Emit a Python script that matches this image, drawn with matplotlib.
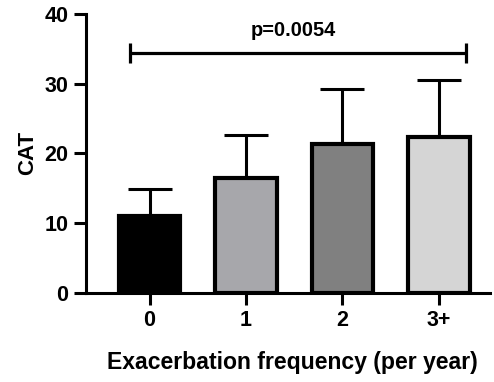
import matplotlib
matplotlib.use("Agg")
import matplotlib.pyplot as plt
import numpy as np

categories = ["0", "1", "2", "3+"]
means = [11.0, 16.5, 21.4, 22.4]
sd_upper = [3.9, 6.2, 7.8, 8.1]
colors = ["#000000", "#A7A7AB", "#808080", "#D5D5D5"]
p_label = "p=0.0054"
bracket_y = 34.4

plt.rcParams['font.family'] = ['Liberation Sans', 'DejaVu Sans']
plt.rcParams['font.weight'] = 'bold'

fig = plt.figure(figsize=(4.94, 3.82), dpi=100)
ax = fig.add_axes([0.174, 0.234, 0.818, 0.729])

x = np.arange(len(categories))
ax.bar(x, means, width=0.635, color=colors, edgecolor="black", linewidth=3.0, zorder=2)
ax.errorbar(x, means, yerr=[[0]*len(x), sd_upper], fmt="none", ecolor="black",
            elinewidth=2.2, capsize=16, capthick=2.2, zorder=1)

# significance bracket
x0, x1 = -0.2, 3.28
ax.plot([x0, x1], [bracket_y, bracket_y], color="black", lw=2.3, solid_capstyle="butt")
ax.plot([x0, x0], [bracket_y - 1.4, bracket_y + 1.4], color="black", lw=2.3, solid_capstyle="butt")
ax.plot([x1, x1], [bracket_y - 1.4, bracket_y + 1.4], color="black", lw=2.3, solid_capstyle="butt")
ax.text((x0 + x1) / 2 - 0.05, bracket_y + 1.9, p_label, ha="center", va="bottom",
        fontsize=14.4, fontweight="bold")

ax.set_xlim(-0.66, 3.53)
ax.set_ylim(0, 40)
ax.set_yticks([0, 10, 20, 30, 40])
ax.set_xticks(x)
ax.set_xticklabels(categories)

for s in ["top", "right"]:
    ax.spines[s].set_visible(False)
for s in ["left", "bottom"]:
    ax.spines[s].set_linewidth(2.2)
ax.tick_params(axis="both", width=2.2, length=8.6, labelsize=15.5, pad=4)
for lab in ax.get_xticklabels() + ax.get_yticklabels():
    lab.set_fontweight("bold")

ax.set_ylabel("CAT", fontsize=16, fontweight="bold", labelpad=4.5)
ax.set_xlabel("Exacerbation frequency (per year)", fontsize=16.6, fontweight="bold")
ax.xaxis.set_label_coords(0.51, -0.252)
ax.xaxis.label.set_va("center")

fig.savefig("out.png", dpi=100)
